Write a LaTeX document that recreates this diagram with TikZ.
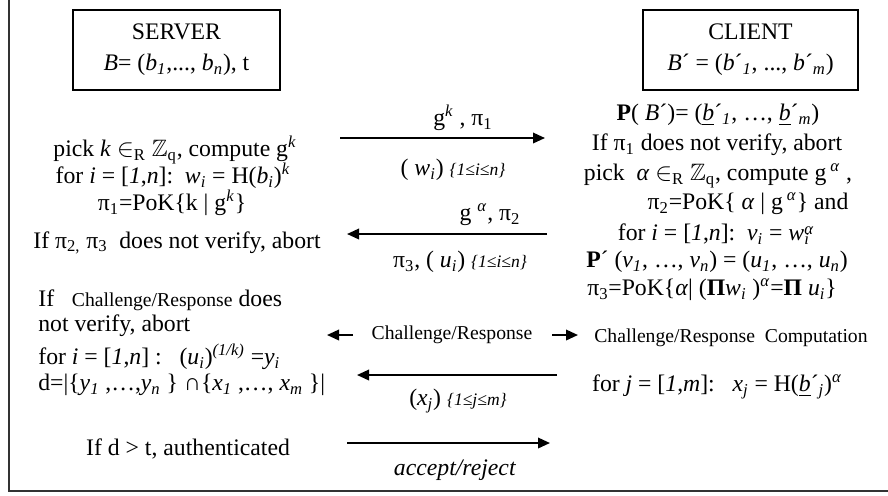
\documentclass[tikz,border=0pt]{standalone}
\usepackage{amssymb}
\usepackage{fontspec}
\setmainfont{Liberation Serif}
\usetikzlibrary{arrows.meta,positioning}
\newcommand{\isub}[1]{\textsubscript{\textit{#1}}}
\newcommand{\isup}[1]{\textsuperscript{\textit{#1}}}
\newcommand{\inR}{$\in$\textsubscript{R}}
\newcommand{\Zq}{$\mathbb{Z}$\textsubscript{q}}
\newcommand{\rng}[1]{{\fontsize{10}{12}\selectfont\itshape #1}}
\tikzset{
    every node/.style={font=\fontsize{13.5}{15.5}\selectfont, inner sep=0pt},
    hdrbox/.style={draw, line width=0.9pt, minimum height=1.6cm, align=center},
    msg/.style={line width=1.1pt, -{Triangle[length=2.4mm,width=2.1mm]}},
    crtext/.style={font=\fontsize{11.2}{13}\selectfont}
}

\begin{document}
\begin{tikzpicture}[x=0.02cm, y=-0.02cm]
    \useasboundingbox (0,0) rectangle (888,495);
    % frame
    \draw[line width=1.2pt, black!80] (9,0) -- (9,491) -- (888,491);

    % the two parties
    \node[hdrbox, minimum width=4.14cm] (server) at (176.5,50) {SERVER\\[2pt]\textit{B}= (\textit{b}\isub{1},..., \textit{b}\isub{n}), t};
    \node[hdrbox, minimum width=4.3cm] (client) at (750.5,50) {CLIENT\\[2pt]\textit{B}´ = (\textit{b}´\isub{1}, ..., \textit{b}´\isub{m})};

    % server side
    \node (s1) at (175,150) {pick \textit{k} \inR\ \Zq, compute g\isup{k}};
    \node (s2) at (173,176) {for \textit{i} = [\textit{1},\textit{n}]:\ \ \textit{w}\isub{i} = H(\textit{b}\isub{i})\isup{k}};
    \node (s3) at (172,203) {π\textsubscript{1}=PoK\{k | g\isup{k}\}};
    \node[anchor=west] (s4) at (33,243) {If π\textsubscript{2,} π\textsubscript{3}\ \ does not verify, abort};
    \node[anchor=west] (s5) at (38,300) {If\ \ \ {\fontsize{11.2}{13}\selectfont Challenge/Response} does};
    \node[anchor=west] (s6) at (38,326) {not verify, abort};
    \node[anchor=west] (s7) at (38,357) {for \textit{i} = [\textit{1},\textit{n}] :\ \ \ (\textit{u}\isub{i})\isup{(1/k)} =\textit{y}\isub{i}};
    \node[anchor=west] (s8) at (38,385) {d=|\{\textit{y}\isub{1} ,…,\textit{y}\isub{n} \} ∩\{\textit{x}\isub{1} ,…, \textit{x}\isub{m} \}|};
    \node (s9) at (188,449) {If d > t, authenticated};

    % client side
    \node (c1) at (718,115) {\textbf{P}( \textit{B}´)= (\underline{\textit{b}}´\isub{1}, …, \underline{\textit{b}}´\isub{m})};
    \node (c2) at (717,145) {If π\textsubscript{1} does not verify, abort};
    \node (c3) at (718,176) {pick\ \ \textit{α} \inR\ \Zq, compute g\,\isup{α} ,};
    \node (c4) at (748,204) {π\textsubscript{2}=PoK\{ \textit{α} | g\,\isup{α}\} and};
    \node (c5) at (716,234) {for \textit{i} = [\textit{1},\textit{n}]:\ \ \textit{v}\isub{i} = \textit{w}\rlap{\isub{i}}\raisebox{-0.3ex}{\isup{α}}};
    \node (c6) at (717,262) {\textbf{P}´ (\textit{v}\isub{1}, …, \textit{v}\isub{n}) = (\textit{u}\isub{1}, …, \textit{u}\isub{n})};
    \node (c7) at (712,290) {π\textsubscript{3}=PoK\{\textit{α}| (\textbf{Π}\textit{w}\isub{i} )\isup{α}=\textbf{Π} \textit{u}\isub{i}\}};
    \node[crtext, anchor=west] (c8) at (594,338) {Challenge/Response\ \ Computation};
    \node (c9) at (717,387) {for \textit{j} = [\textit{1},\textit{m}]:\ \ \ \textit{x}\isub{j} = H(\underline{\textit{b}}´\isub{j})\isup{α}};

    % messages
    \coordinate (m1a) at (340,138);
    \coordinate (m1b) at (545,138);
    \draw[msg] (m1a) -- (m1b);
    \node (l1a) at (463,118) {g\isup{k} , π\textsubscript{1}};
    \node (l1b) at (453,170) {( \textit{w}\isub{i}) \rng{\{1≤i≤n\}}};

    \coordinate (m2a) at (547,234);
    \coordinate (m2b) at (347,234);
    \draw[msg] (m2a) -- (m2b);
    \node (l2a) at (490,215) {g \isup{α}, π\textsubscript{2}};
    \node (l2b) at (460,262) {π\textsubscript{3}, ( \textit{u}\isub{i}) \rng{\{1≤i≤n\}}};

    \node[crtext] (cr) at (452,335) {Challenge/Response};
    \coordinate (cra) at (353,335);
    \coordinate (crb) at (327,335);
    \coordinate (crc) at (552,335);
    \coordinate (crd) at (578,335);
    \draw[msg] (cra) -- (crb);
    \draw[msg] (crc) -- (crd);

    \coordinate (m3a) at (557,375);
    \coordinate (m3b) at (357,375);
    \draw[msg] (m3a) -- (m3b);
    \node (l3) at (458,401) {(\textit{x}\isub{j}) \rng{\{1≤j≤m\}}};

    \coordinate (m4a) at (347,443);
    \coordinate (m4b) at (550,443);
    \draw[msg] (m4a) -- (m4b);
    \node (l4) at (455,470) {\textit{accept/reject}};
\end{tikzpicture}
\end{document}
